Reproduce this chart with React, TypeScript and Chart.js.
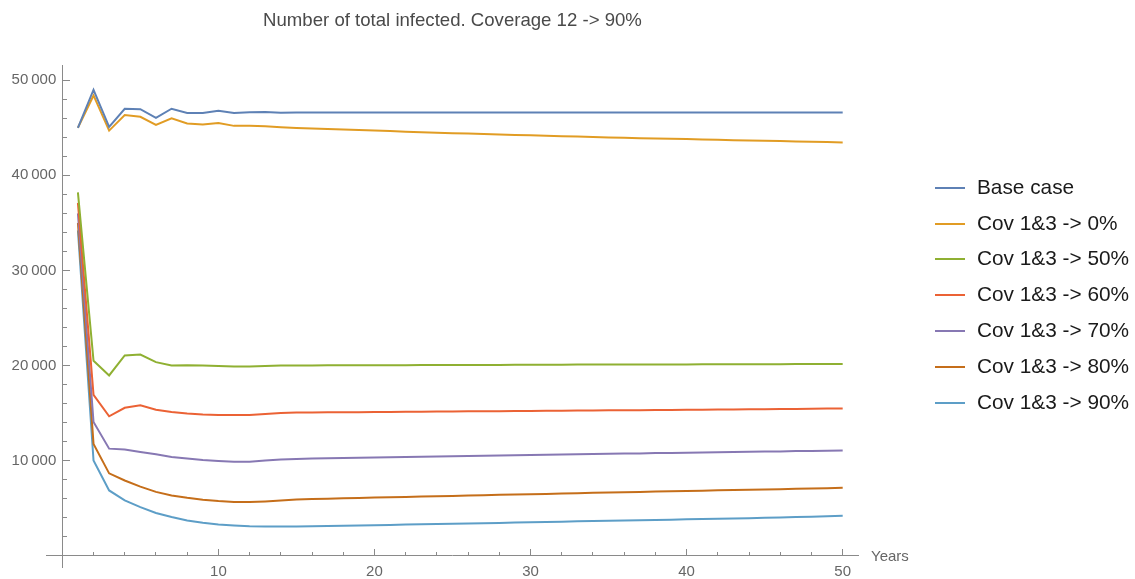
import React, { useEffect, useRef } from 'react';
import { Chart, registerables } from 'chart.js';

Chart.register(...registerables);

const TITLE = 'Number of total infected. Coverage 12 -> 90%';
const X_LABEL = 'Years';

const years = [
  1, 2, 3, 4, 5, 6, 7, 8, 9, 10, 11, 12, 13, 14, 15, 16, 17, 18, 19, 20, 21, 22, 23, 24, 25,
  26, 27, 28, 29, 30, 31, 32, 33, 34, 35, 36, 37, 38, 39, 40, 41, 42, 43, 44, 45, 46, 47, 48, 49, 50,
];

const seriesNames = [
  'Base case',
  'Cov 1&3 -> 0%',
  'Cov 1&3 -> 50%',
  'Cov 1&3 -> 60%',
  'Cov 1&3 -> 70%',
  'Cov 1&3 -> 80%',
  'Cov 1&3 -> 90%',
];

const seriesColors = ['#5E81B5', '#E19C24', '#8FB032', '#EB6235', '#8778B3', '#C56E1A', '#5D9EC7'];

const baseCase = [
  45000, 49000, 45100, 47000, 46950, 46050, 47000, 46550, 46550, 46800, 46550, 46620, 46650, 46580, 46600,
  46600, 46600, 46600, 46600, 46600, 46600, 46600, 46600, 46600, 46600, 46600, 46600, 46600, 46600, 46600,
  46600, 46600, 46600, 46600, 46600, 46600, 46600, 46600, 46600, 46600, 46600, 46600, 46600, 46600, 46600,
  46600, 46600, 46600, 46600, 46600,
];

const cov0 = [
  45000, 48400, 44700, 46350, 46150, 45300, 46000, 45450, 45350, 45500, 45200, 45200, 45150, 45050, 44980,
  44930, 44870, 44820, 44760, 44700, 44650, 44590, 44540, 44480, 44430, 44390, 44340, 44300, 44250, 44210,
  44160, 44120, 44070, 44030, 43980, 43950, 43910, 43880, 43840, 43810, 43770, 43740, 43700, 43670, 43630,
  43600, 43560, 43530, 43490, 43460,
];

const cov50 = [
  38200, 20500, 18950, 21050, 21150, 20350, 20000, 20020, 20000, 19950, 19900, 19880, 19950, 20000, 20000,
  20000, 20010, 20010, 20020, 20020, 20030, 20030, 20040, 20040, 20050, 20050, 20060, 20060, 20070, 20070,
  20080, 20080, 20090, 20090, 20100, 20100, 20100, 20110, 20110, 20110, 20120, 20120, 20120, 20130, 20130,
  20130, 20140, 20140, 20140, 20150,
];

const cov60 = [
  37100, 16900, 14650, 15550, 15800, 15350, 15100, 14950, 14850, 14800, 14780, 14780, 14900, 15000, 15050,
  15060, 15070, 15080, 15090, 15100, 15110, 15120, 15130, 15150, 15160, 15170, 15180, 15190, 15200, 15220,
  15230, 15240, 15250, 15260, 15280, 15290, 15300, 15310, 15320, 15340, 15350, 15360, 15370, 15390, 15400,
  15410, 15430, 15440, 15460, 15470,
];

const cov70 = [
  36000, 14050, 11250, 11150, 10900, 10650, 10380, 10200, 10050, 9950, 9880, 9870, 10000, 10100, 10170,
  10200, 10230, 10260, 10290, 10320, 10340, 10370, 10400, 10420, 10450, 10480, 10500, 10530, 10550, 10580,
  10600, 10630, 10650, 10680, 10700, 10730, 10750, 10780, 10800, 10830, 10850, 10870, 10900, 10920, 10940,
  10960, 10990, 11010, 11030, 11050,
];

const cov80 = [
  35000, 11750, 8650, 7900, 7250, 6700, 6330, 6080, 5870, 5730, 5650, 5630, 5700, 5800, 5900,
  5940, 5980, 6020, 6060, 6100, 6140, 6170, 6210, 6250, 6280, 6320, 6350, 6390, 6420, 6460,
  6490, 6530, 6560, 6600, 6630, 6670, 6700, 6730, 6770, 6800, 6830, 6870, 6900, 6930, 6960,
  6990, 7030, 7060, 7090, 7130,
];

const cov90 = [
  34200, 10000, 6850, 5800, 5100, 4480, 4050, 3700, 3450, 3270, 3160, 3080, 3060, 3060, 3070,
  3090, 3110, 3140, 3170, 3200, 3230, 3260, 3290, 3320, 3350, 3380, 3410, 3440, 3470, 3500,
  3540, 3570, 3600, 3630, 3660, 3690, 3720, 3750, 3780, 3810, 3850, 3880, 3910, 3940, 3980,
  4010, 4050, 4080, 4130, 4180,
];

const seriesValues = [baseCase, cov0, cov50, cov60, cov70, cov80, cov90];

// tick positions / labels
const xMajorTicks = [10, 20, 30, 40, 50];
const xMinorTicks = [2, 4, 6, 8, 12, 14, 16, 18, 22, 24, 26, 28, 32, 34, 36, 38, 42, 44, 46, 48];
const yMajorTicks = [10000, 20000, 30000, 40000, 50000];
const yMinorTicks = [
  2000, 4000, 6000, 8000, 12000, 14000, 16000, 18000, 22000, 24000, 26000, 28000,
  32000, 34000, 36000, 38000, 42000, 44000, 46000, 48000,
];

const X_MIN = -1;
const X_MAX = 51;
const Y_MIN = -1200;
const Y_MAX = 51600;

const FONT = '"Liberation Sans", Arial, Helvetica, sans-serif';
const AXIS_COLOR = '#8a8a8a';
const TICK_TEXT = '#666666';

// "50 000" style labels; trailing thin spaces keep the label clear of the axis line
const fmt = (v: number) => String(v).replace(/\B(?=(\d{3})+(?!\d))/g, '\u2009') + '\u2009\u2009';

const setTicks = (values: number[]) => (scale: any) => {
  scale.ticks = values.map((v) => ({ value: v }));
};

export default function App() {
  const canvasRef = useRef<HTMLCanvasElement | null>(null);

  useEffect(() => {
    if (!canvasRef.current) return;
    const datasets = seriesNames.map((name, i) => ({
      label: name,
      data: seriesValues[i].map((v, j) => ({ x: years[j], y: v })),
      borderColor: seriesColors[i],
      backgroundColor: seriesColors[i],
      borderWidth: 2,
      pointRadius: 0,
      tension: 0,
      fill: false,
      xAxisID: 'x',
      yAxisID: 'y',
    }));

    const chart = new Chart(canvasRef.current, {
      type: 'line',
      data: { datasets },
      options: {
        animation: false,
        responsive: false,
        devicePixelRatio: 1,
        layout: { padding: { left: 46.7, right: 276.7, top: 0, bottom: 12 } },
        plugins: {
          legend: { display: false },
          tooltip: { enabled: false },
          title: {
            display: true,
            text: TITLE,
            color: '#4a4a4a',
            font: { family: FONT, size: 18.6, weight: 'normal' },
            padding: { top: 10, bottom: 32.7 },
          },
        },
        scales: {
          x: {
            type: 'linear',
            axis: 'x',
            min: X_MIN,
            max: X_MAX,
            position: { y: 0 },
            afterBuildTicks: setTicks(xMajorTicks),
            ticks: {
              autoSkip: false,
              maxRotation: 0,
              color: TICK_TEXT,
              font: { family: FONT, size: 15 },
              padding: 14,
              callback: (v: any) => String(v),
            },
            grid: { drawOnChartArea: false, tickLength: -7, color: AXIS_COLOR, tickColor: AXIS_COLOR },
            border: { display: true, color: AXIS_COLOR, width: 1 },
          },
          x2: {
            type: 'linear',
            axis: 'x',
            min: X_MIN,
            max: X_MAX,
            position: { y: 0 },
            afterBuildTicks: setTicks(xMinorTicks),
            ticks: {
              autoSkip: false,
              maxRotation: 0,
              font: { family: FONT, size: 15 },
              callback: () => '',
            },
            grid: { drawOnChartArea: false, tickLength: -4, color: AXIS_COLOR, tickColor: AXIS_COLOR },
            border: { display: false },
          },
          y: {
            type: 'linear',
            axis: 'y',
            min: Y_MIN,
            max: Y_MAX,
            position: { x: 0 },
            afterBuildTicks: setTicks(yMajorTicks),
            ticks: {
              autoSkip: false,
              color: TICK_TEXT,
              font: { family: FONT, size: 15 },
              padding: 0,
              callback: (v: any) => fmt(v),
            },
            grid: { drawOnChartArea: false, tickLength: -8, color: AXIS_COLOR, tickColor: AXIS_COLOR },
            border: { display: true, color: AXIS_COLOR, width: 1 },
          },
          y2: {
            type: 'linear',
            axis: 'y',
            min: Y_MIN,
            max: Y_MAX,
            position: { x: 0 },
            afterBuildTicks: setTicks(yMinorTicks),
            ticks: {
              autoSkip: false,
              padding: 0,
              font: { family: FONT, size: 15 },
              callback: () => '',
            },
            grid: { drawOnChartArea: false, tickLength: -5, color: AXIS_COLOR, tickColor: AXIS_COLOR },
            border: { display: false },
          },
        },
      } as any,
    });
    return () => chart.destroy();
  }, []);

  const legendTop = 187.7;
  const legendStep = 35.8;

  return (
    <div style={{ position: 'absolute', left: 0, top: 0, width: 1135, height: 579, background: '#fff' }}>
      <canvas ref={canvasRef} width={1135} height={579} style={{ display: 'block' }} />
      <div
        style={{
          position: 'absolute',
          left: 871,
          top: 556 - 10,
          height: 20,
          lineHeight: '20px',
          fontFamily: FONT,
          fontSize: 15,
          color: TICK_TEXT,
          whiteSpace: 'nowrap',
        }}
      >
        {X_LABEL}
      </div>
      {seriesNames.map((name, i) => {
        const cy = legendTop + legendStep * i;
        return (
          <React.Fragment key={name}>
            <div
              style={{
                position: 'absolute',
                left: 935,
                top: cy - 1,
                width: 30,
                height: 2,
                background: seriesColors[i],
              }}
            />
            <div
              style={{
                position: 'absolute',
                left: 977,
                top: cy - 1 - 12,
                height: 24,
                lineHeight: '24px',
                fontFamily: FONT,
                fontSize: 20.8,
                color: '#1a1a1a',
                whiteSpace: 'nowrap',
              }}
            >
              {name}
            </div>
          </React.Fragment>
        );
      })}
    </div>
  );
}
